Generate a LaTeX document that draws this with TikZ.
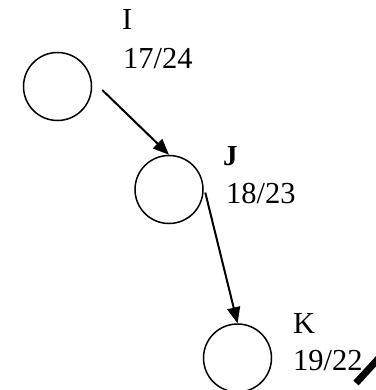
\documentclass[tikz,border=0pt]{standalone}
\usepackage{fontspec}
\setmainfont{Liberation Serif}
\usetikzlibrary{arrows.meta}
\tikzset{
  vertex/.style={circle,draw,line width=1.5pt,minimum size=68pt,inner sep=0pt},
  edge/.style={line width=2pt,-{Triangle[length=16pt,width=13pt]}},
  tag/.style={anchor=base west,inner sep=0pt,font=\fontsize{30.5}{36}\selectfont},
}
\begin{document}
\begin{tikzpicture}[x=1pt,y=-1pt]
  \useasboundingbox (0,0) rectangle (375,390);
  % the three vertices
  \node[vertex] (I) at (57.5,86.5) {};
  \node[vertex] (J) at (169,189.5) {};
  \node[vertex] (K) at (237.5,358) {};
  % names and discovery/finish times
  \node[tag] (nameI) at (122,29.5) {I};
  \node[tag] (timeI) at (123,69) {17/24};
  \node[tag,font=\fontsize{29}{32}\selectfont\bfseries] (nameJ) at (223,165) {J};
  \node[tag] (timeJ) at (226,203) {18/23};
  \node[tag] (nameK) at (293,333) {K};
  \node[tag] (timeK) at (293,370) {19/22};
  % tree edges
  \draw[edge] ([shift={(10,3.5)}]I.east) -- (J.north);
  \draw[edge] ([shift={(1.5,3)}]J.east) -- (K.north);
  % cut-off stroke at the corner
  \draw[line width=7pt] (356,383) -- (379,358);
\end{tikzpicture}
\end{document}
